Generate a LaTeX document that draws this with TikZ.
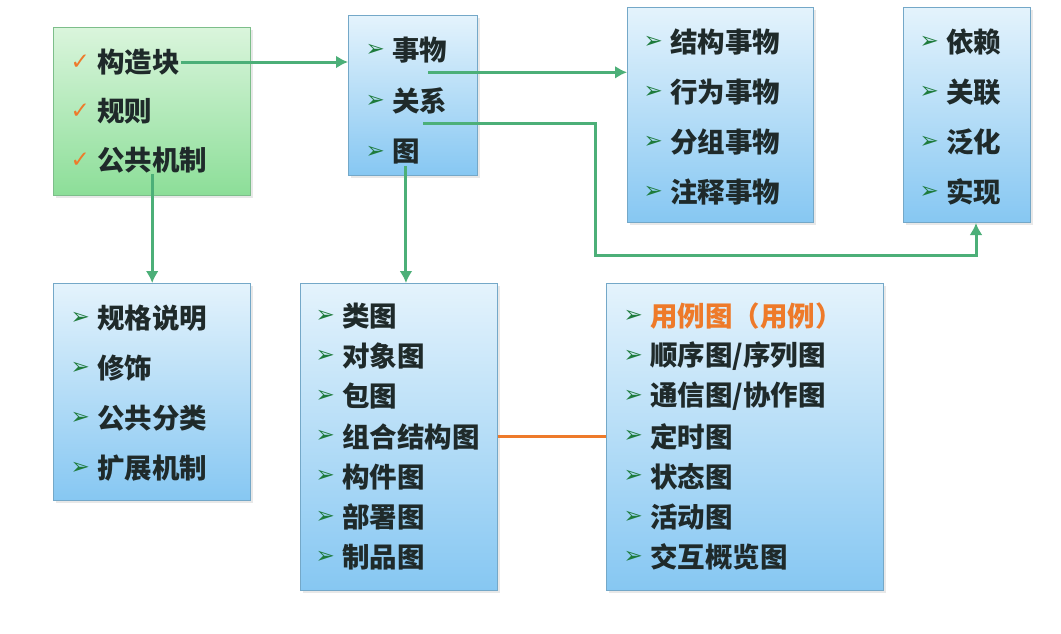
\documentclass[tikz,border=0pt]{standalone}
\usepackage{fontspec}
\newfontfamily\cjk{Noto Sans CJK SC}
\newfontfamily\sym{DejaVu Sans}
\usetikzlibrary{arrows.meta,positioning,shadows}
\definecolor{linkc}{HTML}{4CAF78}
\definecolor{orgc}{HTML}{EE7A2A}
\definecolor{bulc}{HTML}{1E7B3C}
\definecolor{textc}{HTML}{1F2A2A}
\definecolor{bluetop}{HTML}{E4F3FC}
\definecolor{bluebot}{HTML}{86C7F2}
\definecolor{blued}{HTML}{74A8C8}
\definecolor{greentop}{HTML}{DAF5DC}
\definecolor{greenbot}{HTML}{8CDE98}
\definecolor{greend}{HTML}{7DBE8A}
\tikzset{
  bbox/.style={draw=blued,line width=1pt,top color=bluetop,bottom color=bluebot,anchor=north west,inner sep=0pt,
    drop shadow={opacity=0.18,shadow xshift=2pt,shadow yshift=-2pt}},
  gbox/.style={bbox,draw=greend,top color=greentop,bottom color=greenbot},
  item/.style={anchor=west,inner sep=1pt,text=textc,font=\cjk\bfseries\fontsize{27.5}{32}\selectfont},
  bul/.style={text=bulc,font=\sym\bfseries\fontsize{23}{26}\selectfont,label distance=6pt,inner sep=0pt},
  bitem/.style={item,label={[bul]left:➢}},
  citem/.style={item,label={[bul,text=orgc,label distance=6pt]left:✓}},
  link/.style={-{Latex[length=12pt,width=13pt]},linkc,line width=3pt}
}
\begin{document}
\begin{tikzpicture}[x=1pt,y=-1pt]
\useasboundingbox[fill=white] (0,0) rectangle (1061,633);
% boxes
\node[gbox,minimum width=197,minimum height=168] (boxA) at (53,27) {};
\node[bbox,minimum width=129,minimum height=160] (boxB) at (348,15) {};
\node[bbox,minimum width=186,minimum height=215] (boxC) at (627,7) {};
\node[bbox,minimum width=127,minimum height=215] (boxD) at (903,7) {};
\node[bbox,minimum width=197,minimum height=217] (boxE) at (53,283) {};
\node[bbox,minimum width=197,minimum height=307] (boxF) at (300,283) {};
\node[bbox,minimum width=277,minimum height=307] (boxG) at (606,283) {};
% items
\foreach \t [count=\i] in {构造块,规则,公共机制}
  \node[citem] (a\i) at (96,{62+49*(\i-1)}) {\t};
\foreach \t [count=\i] in {事物,关系,图}
  \node[bitem] (b\i) at (391,{50+51*(\i-1)}) {\t};
\foreach \t [count=\i] in {结构事物,行为事物,分组事物,注释事物}
  \node[bitem] (c\i) at (669,{42+50*(\i-1)}) {\t};
\foreach \t [count=\i] in {依赖,关联,泛化,实现}
  \node[bitem] (d\i) at (945,{42+50*(\i-1)}) {\t};
\foreach \t [count=\i] in {规格说明,修饰,公共分类,扩展机制}
  \node[bitem] (e\i) at (96,{318+50*(\i-1)}) {\t};
\foreach \t [count=\i] in {类图,对象图,包图,组合结构图,构件图,部署图,制品图}
  \node[bitem] (f\i) at (341,{316+40.2*(\i-1)}) {\t};
\node[bitem,text=orgc] (g1) at (649,316) {用例图（用例）};
\foreach \t [count=\i from 2] in {顺序图/序列图,通信图/协作图,定时图,状态图,活动图,交互概览图}
  \node[bitem] (g\i) at (649,{316+40.2*(\i-1)}) {\t};
% connectors
\coordinate (b1out) at ([xshift=-20pt,yshift=-8pt]b1.south east);
\coordinate (b2out) at ([xshift=-25pt,yshift=-8pt]b2.south east);
\coordinate (bend) at (595,255);
\draw[link] (a1.east) -- (a1.east -| boxB.west);
\draw[link] (b1out) -- (b1out -| boxC.west);
\draw[link] (b2out) -| (bend) -| ([xshift=9pt]boxD.south);
\draw[link] (b3.south) -- (b3.south |- boxF.north);
\draw[link] (a3.south) -- (a3.south |- boxE.north);
\draw[orgc,line width=3pt] (f4.east -| boxF.east) -- (f4.east -| boxG.west);
\end{tikzpicture}
\end{document}
